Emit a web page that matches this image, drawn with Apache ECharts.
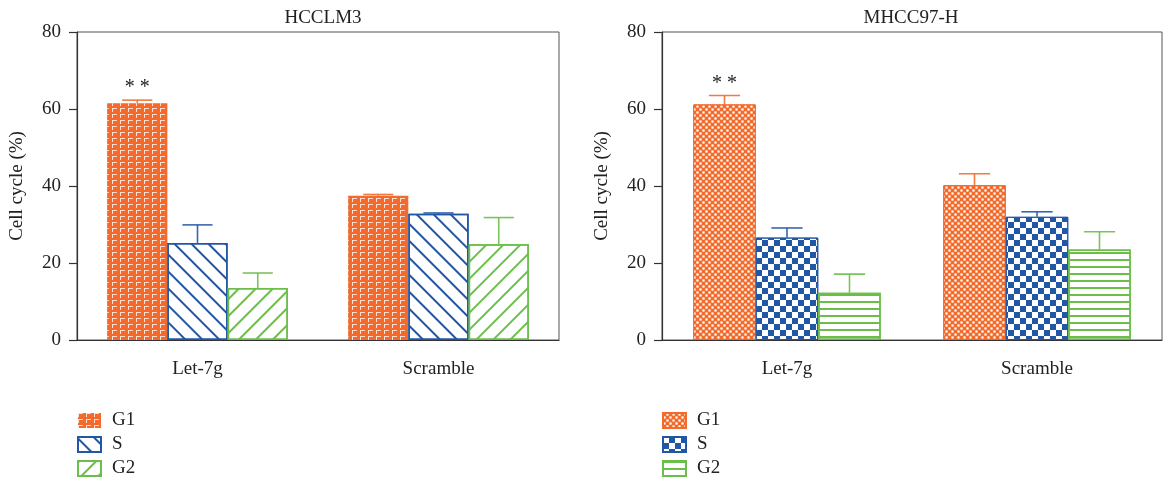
<!DOCTYPE html>
<html>
<head>
<meta charset="utf-8">
<script src="https://cdn.jsdelivr.net/npm/echarts@6/dist/echarts.min.js"></script>
<style>
  html, body { margin: 0; padding: 0; background: #fff; }
  #chart { width: 1163px; height: 484px; }
</style>
</head>
<body>
<div id="chart"></div>
<script>
// Cell-cycle distribution (%) after Let-7g vs. scramble, two cell lines
const categories = ['Let-7g', 'Scramble'];
const phases = ['G1', 'S', 'G2'];
const yTicks = [0, 20, 40, 60, 80];

// HCCLM3
const hcclm3G1 = [61.5, 37.5];
const hcclm3S = [25.2, 32.8];
const hcclm3G2 = [13.5, 24.9];
const hcclm3G1Err = [0.8, 0.3];
const hcclm3SErr = [4.7, 0.2];
const hcclm3G2Err = [3.9, 6.9];
const hcclm3Sig = ['**', ''];

// MHCC97-H
const mhccG1 = [61.2, 40.2];
const mhccS = [26.6, 32.0];
const mhccG2 = [12.3, 23.5];
const mhccG1Err = [2.3, 3.0];
const mhccSErr = [2.5, 1.3];
const mhccG2Err = [4.8, 4.6];
const mhccSig = ['**', ''];

const ORANGE = '#F26A2C';
const BLUE = '#2257A6';
const GREEN = '#6CBE4A';
const FONT = 'Liberation Serif';
const FS = 19;
const CAT_GAP = 0.25;

// fill patterns
const decals = {
  brick: { symbol: 'path://M0,0H6V1H1V5H0Z', symbolSize: 1, color: '#ffffff',
           dashArrayX: [5, 3], dashArrayY: [4, 2] },
  backslash: { symbol: 'rect', symbolSize: 1, color: BLUE,
               dashArrayX: [1, 0], dashArrayY: [1.6, 9.6], rotation: Math.PI / 4 },
  slash: { symbol: 'rect', symbolSize: 1, color: GREEN,
           dashArrayX: [1, 0], dashArrayY: [1.6, 9.4], rotation: -Math.PI / 4 },
  fineCheck: { symbol: 'rect', symbolSize: 0.75, color: '#ffffff',
               dashArrayX: [[3, 3], [0, 3, 3, 0]], dashArrayY: [3, 0] },
  check: { symbol: 'rect', symbolSize: 1, color: BLUE,
           dashArrayX: [[6, 6], [0, 6, 6, 0]], dashArrayY: [6, 0] },
  hlines: { symbol: 'rect', symbolSize: 1, color: GREEN,
            dashArrayX: [1, 0], dashArrayY: [1.6, 5] }
};

const panels = [
  { title: 'HCCLM3', key: 'HCCLM3', left: 77, right: 604, center: 318,
    values: [hcclm3G1, hcclm3S, hcclm3G2], errs: [hcclm3G1Err, hcclm3SErr, hcclm3G2Err],
    sig: hcclm3Sig,
    styles: [
      { color: ORANGE, borderColor: ORANGE, borderWidth: 0, decal: decals.brick },
      { color: '#ffffff', borderColor: BLUE, borderWidth: 1.5, decal: decals.backslash },
      { color: '#ffffff', borderColor: GREEN, borderWidth: 1.5, decal: decals.slash }
    ] },
  { title: 'MHCC97-H', key: 'MHCC97-H', left: 662, right: 1, center: 906,
    values: [mhccG1, mhccS, mhccG2], errs: [mhccG1Err, mhccSErr, mhccG2Err],
    sig: mhccSig,
    styles: [
      { color: ORANGE, borderColor: ORANGE, borderWidth: 1, decal: decals.fineCheck },
      { color: '#ffffff', borderColor: BLUE, borderWidth: 1, decal: decals.check },
      { color: '#ffffff', borderColor: GREEN, borderWidth: 1.5, decal: decals.hlines }
    ] }
];
const lineColors = [ORANGE, BLUE, GREEN];

const grids = [], xAxes = [], yAxes = [], series = [], titles = [], legends = [];

panels.forEach((p, gi) => {
  grids.push({ left: p.left, right: p.right, top: 32, bottom: 144,
               show: true, borderColor: '#555', borderWidth: 1, backgroundColor: 'transparent' });
  titles.push({ text: p.title, left: p.center, top: 4, textAlign: 'center',
                textStyle: { fontFamily: FONT, fontSize: FS, fontWeight: 'normal', color: '#222' } });
  xAxes.push({ type: 'category', gridIndex: gi, data: categories, boundaryGap: true,
               axisLine: { lineStyle: { color: '#333', width: 1.2 } },
               axisTick: { alignWithLabel: true, length: 8, lineStyle: { color: '#333', width: 1.2 } },
               axisLabel: { margin: 20, fontFamily: FONT, fontSize: FS, color: '#222' } });
  yAxes.push({ type: 'value', gridIndex: gi, min: yTicks[0], max: yTicks[yTicks.length - 1],
               interval: yTicks[1] - yTicks[0],
               name: 'Cell cycle (%)', nameLocation: 'middle', nameGap: 50,
               nameTextStyle: { fontFamily: FONT, fontSize: FS, color: '#222' },
               splitLine: { show: false },
               axisLine: { show: true, lineStyle: { color: '#333', width: 1.2 } },
               axisTick: { show: true, length: 8, lineStyle: { color: '#333', width: 1.2 } },
               axisLabel: { margin: 16, fontFamily: FONT, fontSize: FS, color: '#222' } });

  const names = phases.map(ph => p.key + ':' + ph);
  phases.forEach((ph, k) => {
    series.push({ name: names[k], type: 'bar', xAxisIndex: gi, yAxisIndex: gi,
                  data: p.values[k], barGap: '0%', barCategoryGap: (CAT_GAP * 100) + '%',
                  itemStyle: p.styles[k], z: 2 });
  });

  // error bars (upper only) and significance marks
  const errData = [];
  phases.forEach((ph, k) => {
    categories.forEach((c, ci) => errData.push([ci, p.values[k][ci], p.errs[k][ci], k]));
  });
  series.push({
    type: 'custom', xAxisIndex: gi, yAxisIndex: gi, z: 3, silent: true,
    data: errData,
    renderItem: (params, api) => {
      const ci = api.value(0), v = api.value(1), e = api.value(2), k = api.value(3);
      const base = api.coord([ci, v]);
      const top = api.coord([ci, v + e]);
      const bw = api.size([1, 0])[0] * (1 - CAT_GAP) / 3;
      const x = base[0] + (k - 1) * bw;
      const half = bw * 0.25;
      const style = { stroke: lineColors[k], lineWidth: 1.6, opacity: 0.9 };
      const children = [
        { type: 'line', shape: { x1: x, y1: base[1], x2: x, y2: top[1] }, style },
        { type: 'line', shape: { x1: x - half, y1: top[1], x2: x + half, y2: top[1] }, style }
      ];
      if (k === 0 && p.sig[ci]) {
        children.push({ type: 'text', x: x, y: top[1] - 2,
          style: { text: '* *', fill: '#222', font: '20px ' + FONT,
                   textAlign: 'center', textVerticalAlign: 'bottom' } });
      }
      return { type: 'group', children };
    }
  });

  legends.push({ data: names, orient: 'vertical', left: p.left, top: 411, height: 80,
                 padding: 0, itemWidth: 23, itemHeight: 15, itemGap: 5, icon: 'rect',
                 selectedMode: false,
                 formatter: n => n.split(':')[1],
                 textStyle: { fontFamily: FONT, fontSize: FS, lineHeight: 19, color: '#222',
                              padding: [0, 0, 0, 6] } });
});

const chart = echarts.init(document.getElementById('chart'), null, { renderer: 'canvas' });
chart.setOption({
  animation: false,
  backgroundColor: '#ffffff',
  title: titles,
  legend: legends,
  grid: grids,
  xAxis: xAxes,
  yAxis: yAxes,
  series
});
</script>
</body>
</html>
